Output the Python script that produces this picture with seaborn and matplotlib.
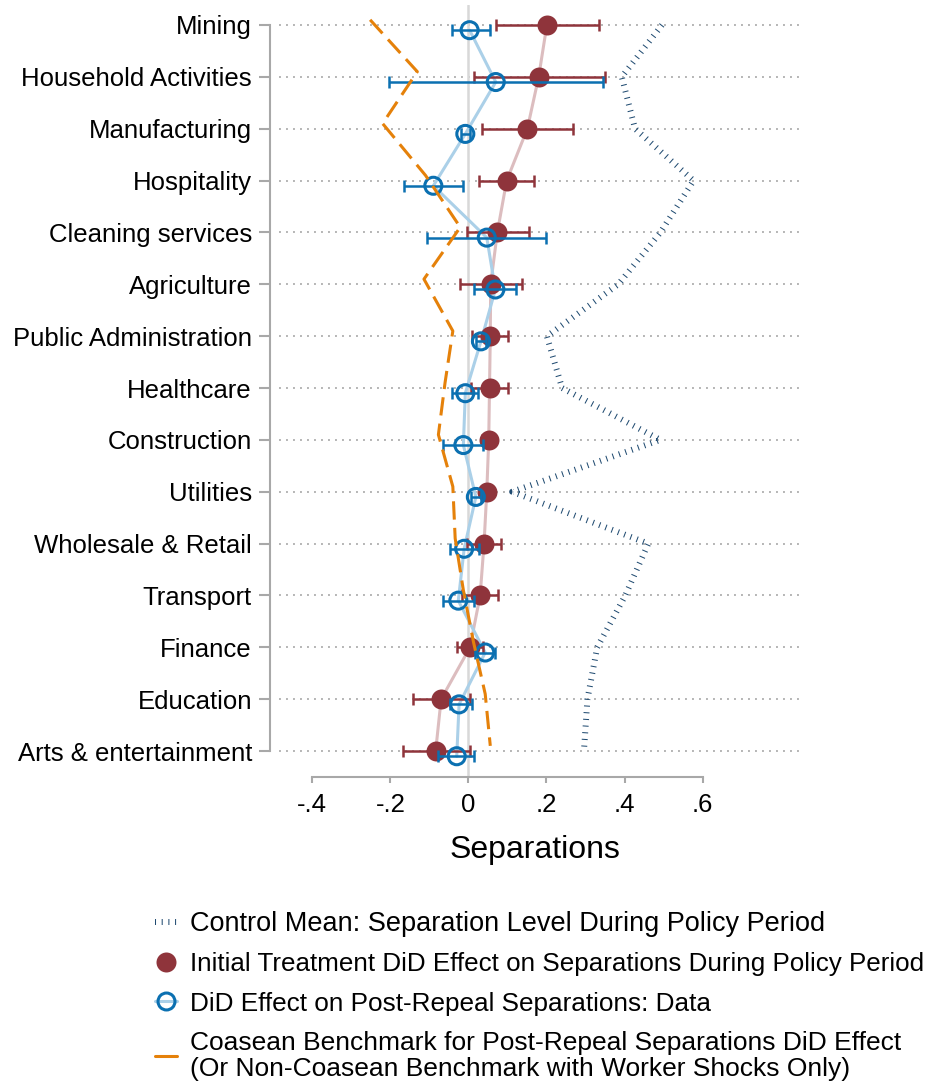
import numpy as np
import pandas as pd
import seaborn as sns
import matplotlib.pyplot as plt
from matplotlib.lines import Line2D

sectors = ['Mining', 'Household Activities', 'Manufacturing', 'Hospitality',
           'Cleaning services', 'Agriculture', 'Public Administration', 'Healthcare',
           'Construction', 'Utilities', 'Wholesale & Retail', 'Transport',
           'Finance', 'Education', 'Arts & entertainment']

# initial treatment DiD effect (policy period) + 95% CI
initial_effect = [0.201, 0.180, 0.151, 0.098, 0.074, 0.057, 0.056, 0.054, 0.052, 0.047, 0.040, 0.030, 0.004, -0.070, -0.084]
initial_lo = [0.070, 0.013, 0.034, 0.028, -0.004, -0.021, 0.010, 0.006, 0.035, 0.035, -0.003, -0.017, -0.030, -0.143, -0.168]
initial_hi = [0.335, 0.349, 0.269, 0.169, 0.154, 0.137, 0.102, 0.102, 0.069, 0.059, 0.083, 0.077, 0.038, 0.004, 0.004]

# post-repeal DiD effect (data) + 95% CI
repeal_effect = [0.003, 0.070, -0.008, -0.090, 0.047, 0.069, 0.032, -0.008, -0.013, 0.019, -0.011, -0.026, 0.043, -0.024, -0.030]
repeal_lo = [-0.043, -0.203, -0.020, -0.164, -0.107, 0.015, 0.019, -0.041, -0.064, 0.007, -0.046, -0.065, 0.017, -0.047, -0.077]
repeal_hi = [0.054, 0.344, 0.004, -0.015, 0.198, 0.121, 0.045, 0.024, 0.037, 0.031, 0.027, 0.013, 0.068, 0.009, 0.013]

coasean = [-0.252, -0.131, -0.220, -0.110, -0.021, -0.114, -0.040, -0.060, -0.077, -0.040, -0.034, -0.013, 0.013, 0.043, 0.056]
control_mean = [0.496, 0.393, 0.427, 0.577, 0.492, 0.384, 0.201, 0.240, 0.492, 0.112, 0.461, 0.402, 0.330, 0.305, 0.296]

xticks = [-0.4, -0.2, 0, 0.2, 0.4, 0.6]
xticklabels = ['-.4', '-.2', '0', '.2', '.4', '.6']

legend_labels = ['Control Mean: Separation Level During Policy Period',
                 'Initial Treatment DiD Effect on Separations During Policy Period',
                 'DiD Effect on Post-Repeal Separations: Data',
                 'Coasean Benchmark for Post-Repeal Separations DiD Effect\n(Or Non-Coasean Benchmark with Worker Shocks Only)']

df = pd.DataFrame({'sector': sectors, 'initial': initial_effect, 'repeal': repeal_effect,
                   'coasean': coasean, 'control': control_mean})
df['row'] = np.arange(len(sectors))
df['row_repeal'] = df['row'] + 0.1
df['row_coasean'] = df['row'] - 0.1

maroon = '#8f343b'
blue = '#0b70b1'
orange = '#e5810a'
navy = '#1f4a70'
grey = '#a8a8a8'

sns.set_theme(style='white')
plt.rcParams['font.family'] = ['Liberation Sans', 'DejaVu Sans']
plt.rcParams['text.color'] = 'black'
plt.rcParams['axes.labelcolor'] = 'black'

fig = plt.figure(figsize=(9.27, 10.85), dpi=100)
ax = fig.add_axes([0.2913, 0.2841, 0.5718, 0.7113])

ax.hlines(df['row'], -0.485, 0.85, color='#b5b5b5', lw=1.4, linestyles=[(0, (1, 2.6))], zorder=0)
ax.axvline(0, color='#d8d8d8', lw=1.8, zorder=1)

sns.lineplot(data=df, x='control', y='row', orient='y', sort=False, estimator=None,
             color=navy, lw=4.3, linestyle=(0, (0.17, 0.95)), ax=ax, zorder=2)
sns.lineplot(data=df, x='initial', y='row', orient='y', sort=False, estimator=None,
             color='#dcbdbf', lw=2.2, ax=ax, zorder=2)
sns.lineplot(data=df, x='repeal', y='row_repeal', orient='y', sort=False, estimator=None,
             color='#abd0e8', lw=2.2, ax=ax, zorder=2)

ie = np.array(initial_effect)
ax.errorbar(ie, df['row'], xerr=[ie - np.array(initial_lo), np.array(initial_hi) - ie],
            fmt='none', ecolor=maroon, elinewidth=1.8, capsize=4.3, capthick=1.8, zorder=3)
sns.scatterplot(data=df, x='initial', y='row', color=maroon, s=207, linewidth=0, ax=ax, zorder=4)

re = np.array(repeal_effect)
ax.errorbar(re, df['row_repeal'], xerr=[re - np.array(repeal_lo), np.array(repeal_hi) - re],
            fmt='none', ecolor=blue, elinewidth=1.8, capsize=4.3, capthick=1.8, zorder=5)
sns.scatterplot(data=df, x='repeal', y='row_repeal', color='none', edgecolor=blue,
                s=150, linewidth=2.2, ax=ax, zorder=6)

sns.lineplot(data=df, x='coasean', y='row_coasean', orient='y', sort=False, estimator=None,
             color=orange, lw=2.2, linestyle=(0, (6, 2.7)), ax=ax, zorder=7)

ax.set_xlim(-0.5085, 0.850)
ax.set_ylim(14.4956, -0.3857)
ax.set_yticks(df['row'])
ax.set_yticklabels(sectors)
ax.set_xticks(xticks)
ax.set_xticklabels(xticklabels)
ax.set_ylabel('')
ax.set_xlabel('Separations', fontsize=23, labelpad=13)

for side in ['top', 'right']:
    ax.spines[side].set_visible(False)
for side in ['left', 'bottom']:
    ax.spines[side].set_color(grey)
    ax.spines[side].set_linewidth(1.5)
ax.spines['left'].set_bounds(0, 14)
ax.spines['bottom'].set_bounds(-0.4, 0.6)

ax.tick_params(axis='y', left=True, length=8, width=1.5, color=grey, pad=5,
               labelsize=18.5, labelcolor='black')
ax.tick_params(axis='x', bottom=True, length=4, width=1.5, color=grey, pad=8,
               labelsize=18.5, labelcolor='black')

handles = [
    Line2D([], [], color=navy, lw=4.3, ls=(0, (0.17, 0.95))),
    Line2D([], [], ls='none', marker='o', markersize=14.4, color=maroon, markeredgewidth=0),
    Line2D([], [], color='#abd0e8', lw=2.2, marker='o', markersize=12.2,
           mfc='none', mec=blue, mew=2.2),
    Line2D([], [], color=orange, lw=2.2),
]
leg = fig.legend(handles, legend_labels, loc='upper left',
                 bbox_to_anchor=(155 / 927, 1 - 911 / 1085), frameon=False,
                 fontsize=19, handlelength=0.83, handletextpad=0.5,
                 labelspacing=0.58, borderaxespad=0, borderpad=0)
for t, size in zip(leg.get_texts(), [19.5, 18.7, 18.8, 19.0]):
    t.set_fontsize(size)
    t.set_linespacing(1.1)
    t.set_color('black')

fig.savefig('out.png', dpi=100)
